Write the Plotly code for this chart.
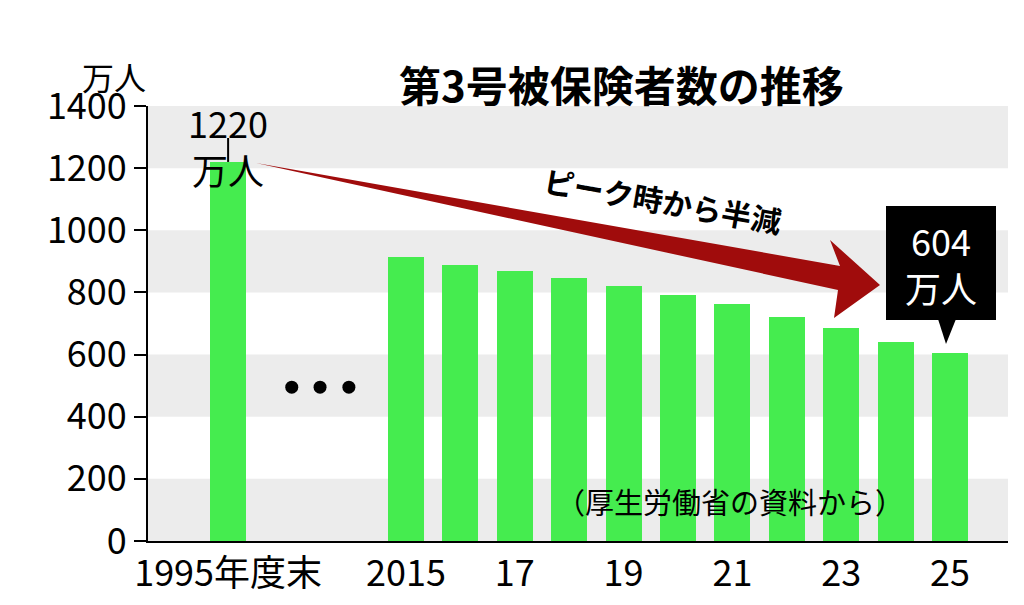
import plotly.graph_objects as go

years = ["1995", "2015", "2016", "2017", "2018", "2019", "2020", "2021", "2022", "2023", "2024", "2025"]
values = [1220, 915, 889, 870, 847, 820, 793, 763, 721, 686, 641, 604]
tick_labels = ["1995年度末", "2015", "17", "19", "21", "23", "25"]
tick_years = ["1995", "2015", "2017", "2019", "2021", "2023", "2025"]

# 1995 sits left of the 2015-2025 run with a gap (dots in between)
def pos(y):
    y = int(y)
    return -3.27 if y == 1995 else y - 2015

xs = [pos(y) for y in years]
FONT = "Noto Sans CJK JP"
GREEN = "#45ec4f"

fig = go.Figure()
fig.add_trace(go.Bar(x=xs, y=values, marker_color=GREEN, width=0.66, marker_line_width=0))
fig.add_trace(go.Scatter(x=[-2.1, -1.58, -1.05], y=[495, 495, 495], mode="markers",
                         marker=dict(color="black", size=13)))

shapes = []
for lo in (0, 400, 800, 1200):
    shapes.append(dict(type="rect", xref="paper", x0=0, x1=1, yref="y", y0=lo, y1=lo + 200,
                       fillcolor="#ececec", line_width=0, layer="below"))

# pixel -> data helpers for decorations
def px(p): return (p - 398) / 54.4
def py(p): return (533 - p) * 1400 / 435

arrow = [(248, 155), (832, 258), (822, 232), (872, 277), (826, 310), (830, 282)]
path = "M " + " L ".join(f"{px(a)},{py(b)}" for a, b in arrow) + " Z"
shapes.append(dict(type="path", path=path, fillcolor="#a00c0c", line_width=0))
# leader for 1220
shapes.append(dict(type="line", x0=xs[0], x1=xs[0], y0=values[0], y1=py(130), line=dict(color="black", width=2)))
# 604 callout box
shapes.append(dict(type="rect", x0=px(878), x1=px(988), y0=py(198), y1=py(312),
                   fillcolor="black", line_width=0))
shapes.append(dict(type="path", path=f"M {px(930)},{py(311)} L {px(948)},{py(311)} L {px(938)},{py(336)} Z",
                   fillcolor="black", line_width=0))

ann = [
    dict(x=xs[0], yref="paper", y=1.0, yshift=12, text="1220<br>万人", showarrow=False,
         font=dict(size=36, color="black", family=FONT)),
    dict(x=px(933), y=py(255), text="604<br>万人", showarrow=False, font=dict(size=36, color="white", family=FONT)),
    dict(x=px(655), y=py(192), text="<b>ピーク時から半減</b>", showarrow=False, textangle=10,
         font=dict(size=30, color="black", family=FONT)),
    dict(x=px(722), y=py(493), text="（厚生労働省の資料から）", showarrow=False,
         font=dict(size=29, color="black", family=FONT)),
    dict(xref="paper", x=0.55, yref="paper", y=1.0, yshift=55, text="<b>第3号被保険者数の推移</b>", showarrow=False,
         font=dict(size=42, color="black", family=FONT)),
    dict(xref="paper", x=0, xshift=-68, yref="paper", y=1.0, yshift=55, text="万人", showarrow=False,
         font=dict(size=32, color="black", family=FONT)),
]

fig.update_layout(
    width=1024, height=605, margin=dict(l=140, r=24, t=98, b=72),
    plot_bgcolor="white", paper_bgcolor="white", showlegend=False,
    shapes=shapes, annotations=ann, bargap=0,
    font=dict(family=FONT, size=36, color="black"),
    xaxis=dict(range=[px(140), px(1000)], tickvals=[pos(y) for y in tick_years], ticktext=tick_labels,
               showgrid=False, zeroline=False, showline=True, linecolor="black", linewidth=2,
               ticks="", tickfont=dict(size=36), automargin=False),
    yaxis=dict(range=[0, 1400], tickvals=list(range(0, 1401, 200)), showgrid=False, zeroline=False,
               showline=True, linecolor="black", linewidth=2, ticks="outside", ticklen=12,
               tickwidth=2, tickcolor="black", tickfont=dict(size=36), automargin=False),
)
fig.write_html("out.html")
